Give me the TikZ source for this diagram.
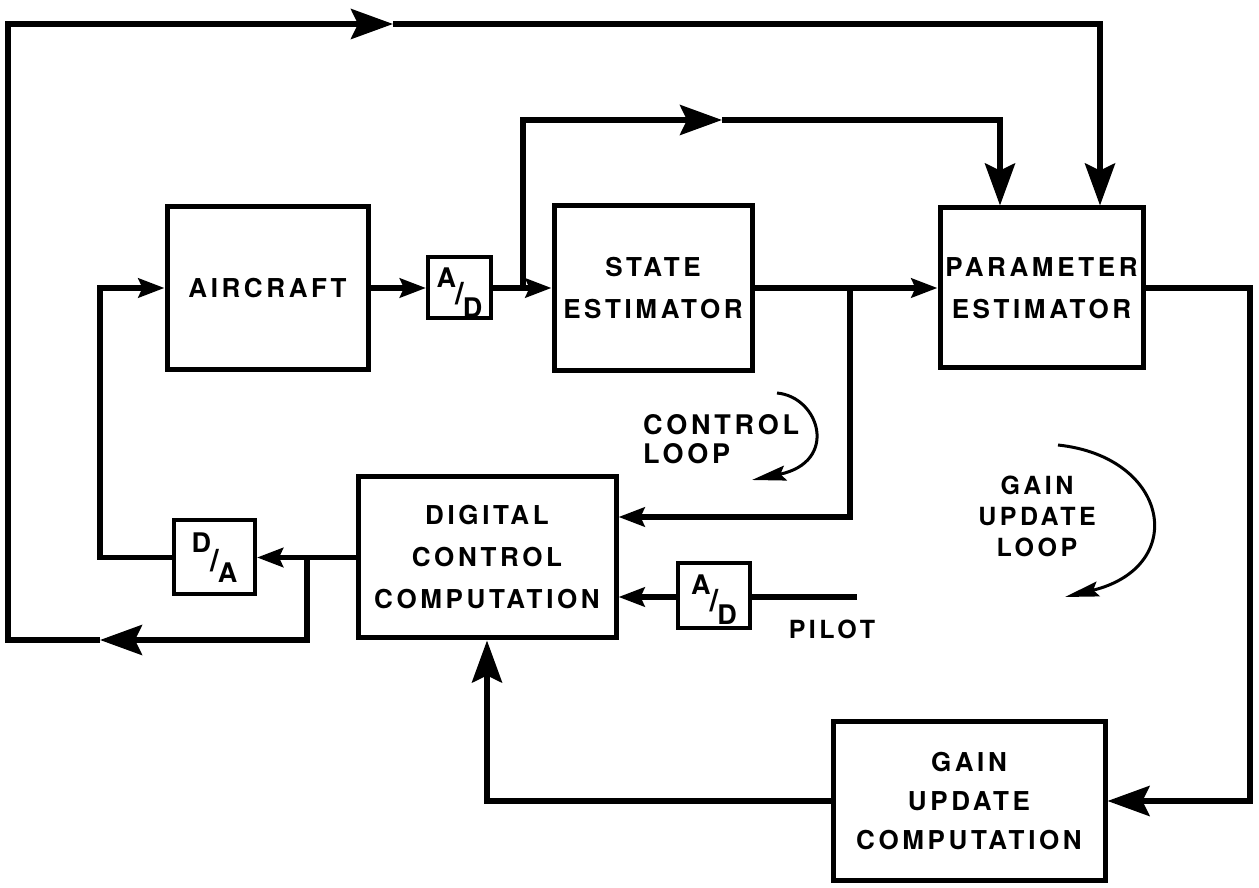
\documentclass[tikz,border=0pt]{standalone}
\usepackage{fontspec}
\usepackage{graphicx}
\setmainfont{TeX Gyre Heros}[LetterSpace=14]
\newfontfamily\adfont{TeX Gyre Heros}
\usetikzlibrary{arrows.meta}
\newcommand\slashglyph[1]{\kern-1pt\raisebox{#1}{\scalebox{1.15}{/}}\kern-1pt}
\begin{document}
\begin{tikzpicture}[x=1pt,y=1pt,
  wire/.style={line width=5.5pt},
  box/.style={draw,line width=5pt,align=center,inner sep=0pt,
    font=\bfseries\fontsize{26}{42}\selectfont},
  adbox/.style={draw,line width=4pt,inner sep=0pt,
    font=\adfont\bfseries\fontsize{27}{27}\selectfont},
  lbl/.style={inner sep=0pt,font=\bfseries\fontsize{26}{30}\selectfont},
  looparc/.style={line width=3pt},
  bigtip/.tip={Stealth[length=42pt,width=30pt,inset=7pt]},
  smalltip/.tip={Stealth[length=26pt,width=19pt,inset=4pt]},
  looptip/.tip={Stealth[length=34pt,width=15pt,inset=5pt]}]
\useasboundingbox (0,0) rectangle (1259,887);

% blocks
\node[box,minimum width=201pt,minimum height=163pt] (AC) at (267.5,599) {AIRCRAFT};
\node[adbox,minimum width=63pt,minimum height=61pt] (AD1) at (459.5,599)
  {\rule{0pt}{34.4pt}\raisebox{6pt}{A}\slashglyph{-11pt}\raisebox{-24pt}{D}};
\node[box,minimum width=198pt,minimum height=165pt] (SE) at (653,599) {STATE\\ESTIMATOR};
\node[box,minimum width=203pt,minimum height=160pt] (PE) at (1041.5,599) {PARAMETER\\ESTIMATOR};
\node[box,minimum width=258pt,minimum height=161pt] (DCC) at (487,329.5) {DIGITAL\\CONTROL\\COMPUTATION};
\node[adbox,minimum width=81pt,minimum height=74pt] (DA) at (214.5,329.5)
  {\raisebox{6pt}{D}\slashglyph{-13pt}\raisebox{-24pt}{A}\hspace{10pt}};
\node[adbox,minimum width=72pt,minimum height=65pt] (AD2) at (714,291.5)
  {\rule{0pt}{34.4pt}\raisebox{6pt}{A}\slashglyph{-11pt}\raisebox{-24pt}{D}};
\node[box,minimum width=272pt,minimum height=158pt,font=\bfseries\fontsize{26}{39}\selectfont] (GUC) at (969,86) {GAIN\\UPDATE\\COMPUTATION};

% labels
\node[lbl,align=left,anchor=west,font=\bfseries\fontsize{27}{29}\selectfont] (CL) at (643,448) {CONTROL\\LOOP};
\node[lbl,align=center,font=\bfseries\fontsize{25}{31}\selectfont] (GL) at (1037,371) {GAIN\\UPDATE\\LOOP};
\node[lbl,font=\bfseries\fontsize{25}{30}\selectfont] (PL) at (832,258) {PILOT};

% coordinates
\coordinate (b1) at (523,599);
\coordinate (m1) at (722,767);
\coordinate (t2) at (1000,767);
\coordinate (b2) at (850,599);
\coordinate (cl) at (850,370);
\coordinate (b3) at (307,329.5);
\coordinate (m3) at (100,247);
\coordinate (o2) at (8,247);
\coordinate (o3) at (8,863);
\coordinate (m4) at (393,863);
\coordinate (o4) at (1100,863);
\coordinate (c2) at (100,599);
\coordinate (r1) at (1250,599);
\coordinate (r2) at (1250,86);
\coordinate (p1) at (857,290);
\coordinate (la) at (777,494);
\coordinate (lb) at (752,407);
\coordinate (ga) at (1058,442);
\coordinate (gb) at (1065,290);

% forward path
\draw[wire,-smalltip] (AC.east) -- (AD1.west);
\draw[wire,-smalltip] (AD1.east) -- (SE.west);
\draw[wire,-smalltip] (SE.east) -- (PE.west);
\draw[wire,-bigtip] (b1) |- (m1);
\draw[wire,-bigtip] (m1) -| (t2 |- PE.north);
% control loop
\draw[wire,-smalltip] (b2) -- (cl) -- (cl -| DCC.east);
\draw[wire,-smalltip] (DCC.west) -- (DCC.west -| DA.east);
\draw[wire,-smalltip] (DA.west) -| (c2) -- (AC.west);
% outer loop
\draw[wire,-bigtip] (b3) |- (m3);
\draw[wire,-bigtip] (m3) -- (o2) -- (o3) -- (m4);
\draw[wire,-bigtip] (m4) -| (o4 |- PE.north);
% gain update loop
\draw[wire,-bigtip] (PE.east) -- (r1) -- (r2) -- (GUC.east);
\draw[wire,-bigtip] (GUC.west) -| (DCC.south);
% pilot
\draw[wire] (p1) -- (p1 -| AD2.east);
\draw[wire,-smalltip] (AD2.west |- p1) -- (p1 -| DCC.east);
% loop arrows
\draw[looparc,-looptip] (la) .. controls (820,490) and (839,425) .. (lb);
\draw[looparc,-looptip] (ga) .. controls (1170,430) and (1189,320) .. (gb);
\end{tikzpicture}
\end{document}
